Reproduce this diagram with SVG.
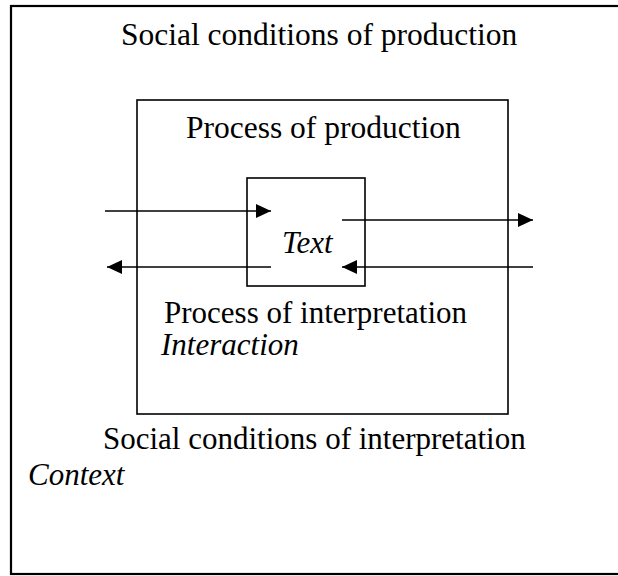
<svg xmlns="http://www.w3.org/2000/svg" width="618" height="576" viewBox="0 0 618 576">
<style>
.box{fill:none;stroke:#000;stroke-width:1.6}
.t{font-family:"Liberation Serif","Times New Roman",serif;font-size:31px;fill:#000}
.b{font-size:31.5px}
.i{font-style:italic}
.c{stroke:#000;stroke-width:1.6;fill:none;marker-end:url(#ah)}
</style>
<defs>
<marker id="ah" markerUnits="userSpaceOnUse" markerWidth="16" markerHeight="14" refX="15" refY="7" orient="auto">
<path d="M0,0 L15,7 L0,14 z" fill="#000"/>
</marker>
</defs>
<rect width="618" height="576" fill="#fff"/>
<g id="context">
<rect x="11" y="6" width="620" height="568" fill="none" stroke="#000" stroke-width="2.2"/>
<text class="t b" x="121" y="45">Social conditions of production</text>
<text class="t" x="103" y="449">Social conditions of interpretation</text>
<text class="t i" x="28" y="485">Context</text>
</g>
<g id="interaction">
<rect class="box" x="137" y="100" width="371" height="314"/>
<text class="t b" x="186" y="138">Process of production</text>
<text class="t" x="164" y="323">Process of interpretation</text>
<text class="t i" x="161" y="355">Interaction</text>
</g>
<g id="text">
<rect class="box" x="247" y="178" width="118" height="108"/>
<text class="t i" x="282" y="253">Text</text>
</g>
<g id="connectors">
<line class="c" x1="105" y1="211" x2="271" y2="211"/>
<line class="c" x1="342" y1="220" x2="533" y2="220"/>
<line class="c" x1="271" y1="267" x2="107" y2="267"/>
<line class="c" x1="533" y1="267" x2="342" y2="267"/>
</g>
</svg>
